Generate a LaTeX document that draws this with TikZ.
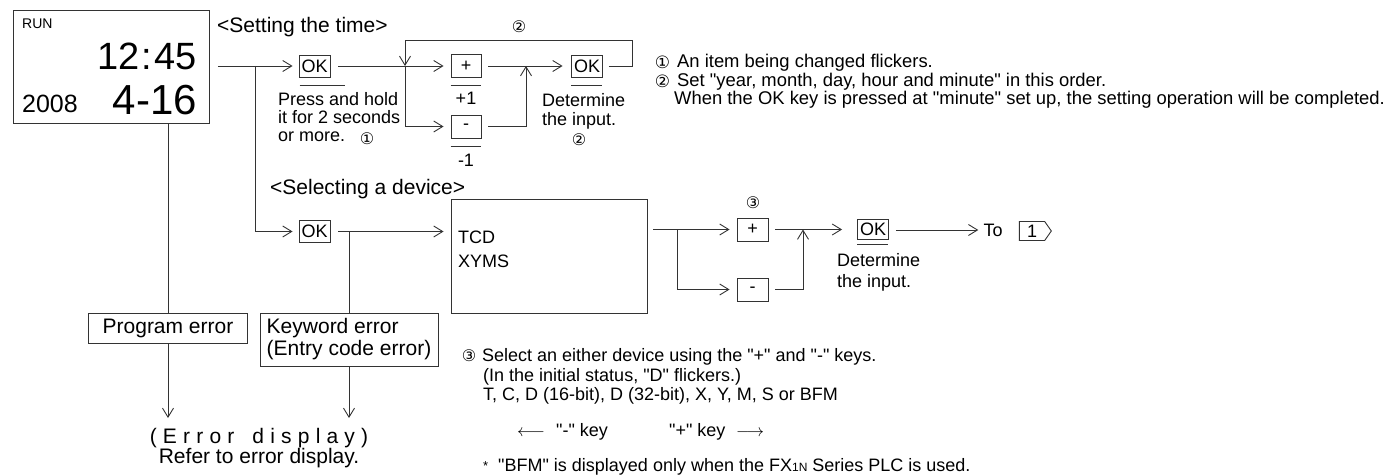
\documentclass[tikz,border=0pt]{standalone}
\usepackage{fontspec}
\setmainfont{Liberation Sans}[Ligatures=TeXOff]
\newfontfamily\dvsfont{DejaVu Sans}
\usetikzlibrary{arrows.meta,shapes.symbols}
\newcommand{\myfs}[2]{\fontsize{#1}{#2}\selectfont}
\newcommand{\lsp}{\hspace{6.2pt}}
\begin{document}
\begin{tikzpicture}[x=1pt,y=-1pt,
  ln/.style={draw=black!80,line width=0.9pt},
  arr/.style={ln,-{Straight Barb[length=9pt,width=11pt,line width=0.9pt]}},
  keybox/.style={draw=black!80,line width=0.9pt,inner sep=0pt,minimum width=31pt,minimum height=22pt,font=\myfs{18}{18}},
  box/.style={draw=black!80,line width=0.9pt,inner sep=0pt},
  txt/.style={inner sep=0pt,anchor=base west,font=\myfs{18}{18}},
  note/.style={inner sep=0pt,anchor=base west,font=\myfs{18}{18}},
  big/.style={inner sep=0pt,anchor=base west,font=\myfs{21}{21}},
  circ/.style={inner sep=0pt,font=\dvsfont\myfs{16}{16}}
]
\useasboundingbox (0,0) rectangle (1389,476);

% ---------- display ----------
\node[box,minimum width=196pt,minimum height=113pt,anchor=north west] (disp) at (13,10) {};
\node[inner sep=0pt,anchor=base west,font=\myfs{14}{14}] (run) at (22,29) {RUN};
\node[inner sep=0pt,anchor=base east,font=\myfs{38}{38}] (time) at (197,70) {12\kern2pt:\kern2pt45};
\node[inner sep=0pt,anchor=base east,font=\myfs{42}{42}] (date) at (197,115) {4-16};
\node[inner sep=0pt,anchor=base west,font=\myfs{25}{25}] (year) at (22,113) {2008};

% ---------- setting the time ----------
\node[big] (hdr1) at (217,33) {<Setting the time>};
\node[keybox] (ok1) at (314.5,66) {OK};
\node[keybox,minimum width=30pt,minimum height=23pt] (p1) at (466,66) {+};
\node[keybox,minimum width=30pt,minimum height=23pt] (m1) at (466,126.5) {-};
\node[keybox] (ok2) at (587,66) {OK};
\coordinate (jv) at (255,66);
\coordinate (j1) at (405,66);
\coordinate (j1b) at (405,126.5);
\coordinate (j1t) at (405,40);
\coordinate (j2) at (526,66);
\coordinate (j2b) at (526,126.5);
\coordinate (fb1) at (632,66);
\coordinate (fb2) at (632,40);

\draw[arr,shorten <=8pt,shorten >=6pt] (disp.east |- ok1) -- (ok1.west);
\draw[arr,shorten <=8pt,shorten >=7pt] (ok1.east) -- (p1.west);
\draw[arr,shorten >=7pt] (j1) -- (j1b) -- (m1.west);
\draw[arr,shorten <=7pt,shorten >=8.5pt] (p1.east) -- (ok2.west);
\draw[arr,shorten <=7pt] (m1.east) -- (j2b) -- (j2);
\draw[arr,shorten <=6pt] (ok2.east) -- (fb1) -- (fb2) -- (j1t) -- (j1);

\draw[ln] (ok1.south west) ++(1,8) -- ++(45,0);
\draw[ln] (p1.south west) ++(0,8) -- ++(30,0);
\draw[ln] (m1.south west) ++(0,8.5) -- ++(30,0);
\draw[ln] (ok2.south west) ++(0,8) -- ++(31,0);

\node[txt] (ph1) at (278,106) {Press and hold};
\node[txt] (ph2) at (278,124) {it for 2 seconds};
\node[txt] (ph3) at (278,142) {or more.};
\node[circ] (c1) at (367,138.5) {①};
\node[txt,anchor=base] (pl1) at (466,105) {+1};
\node[txt,anchor=base] (mi1) at (466,166) {-1};
\node[txt] (dt1) at (542,107) {Determine};
\node[txt] (dt2) at (542,125) {the input.};
\node[circ] (c2b) at (579,140) {②};
\node[circ] (c2a) at (519,27) {②};

% notes right
\node[circ,font=\dvsfont\myfs{17}{17}] (n1c) at (662.5,62.5) {①};
\node[txt,font=\myfs{18.4}{18.4}] (n1) at (677,68) {An item being changed flickers.};
\node[circ,font=\dvsfont\myfs{17}{17}] (n2c) at (662.5,81) {②};
\node[txt,font=\myfs{18.4}{18.4}] (n2) at (677,86.5) {Set "year, month, day, hour and minute" in this order.};
\node[txt,font=\myfs{18.4}{18.4}] (n3) at (674,105) {When the OK key is pressed at "minute" set up, the setting operation will be completed.};

% ---------- selecting a device ----------
\node[big] (hdr2) at (270,194) {<Selecting a device>};
\node[keybox] (ok3) at (314.5,231.5) {OK};
\node[box,minimum width=196pt,minimum height=114pt] (tcd) at (549,256) {};
\node[txt] (tcd1) at (458,243) {TCD};
\node[txt] (tcd2) at (458,267) {XYMS};
\draw[arr,shorten >=6pt] (jv) -- (jv |- ok3) -- (ok3.west);
\draw[arr,shorten <=8pt,shorten >=7pt] (ok3.east) -- (ok3 -| tcd.west);

% errors
\node[box,minimum width=159pt,minimum height=30pt,font=\myfs{21}{21}] (prog) at (168,328) {Program error};
\node[box,minimum width=178pt,minimum height=53pt,align=left,font=\myfs{21}{22}] (kw) at (349,339.5) {Keyword error\\(Entry code error)};
\draw[ln] (disp.south -| prog.north) -- (prog.north);
\draw[ln] (ok3 -| kw.north) -- (kw.north);
\coordinate (e1) at (168,418);
\coordinate (e2) at (349,418);
\draw[arr] (prog.south) -- (e1);
\draw[arr] (kw.south) -- (e2);
\node[big,anchor=base] (err1) at (259,443) {(\lsp E\lsp r\lsp r\lsp o\lsp r\hspace{18pt}d\lsp i\lsp s\lsp p\lsp l\lsp a\lsp y\lsp )};
\node[big,anchor=base] (err2) at (259,463) {Refer to error display.};

% lower right chain
\node[keybox,minimum height=23pt] (p2) at (752.5,229.5) {+};
\node[keybox,minimum height=23pt] (m2) at (752.5,289.5) {-};
\node[keybox,minimum height=20pt] (ok4) at (873,229) {OK};
\coordinate (j4) at (677,229.5);
\coordinate (j5) at (803,229.5);
\draw[arr,shorten <=6pt,shorten >=7pt] (tcd.east |- p2) -- (p2.west);
\draw[arr,shorten >=7pt] (j4) -- (j4 |- m2) -- (m2.west);
\draw[arr,shorten <=7pt,shorten >=15pt] (p2.east) -- (ok4.west |- p2);
\draw[arr,shorten <=7pt] (m2.east) -- (j5 |- m2) -- (j5);
\draw[ln] (ok4.south west) ++(0,5) -- ++(31,0);
\node[circ] (c3) at (753,203) {③};
\node[txt] (dt3) at (837,266) {Determine};
\node[txt] (dt4) at (837,287) {the input.};
\node[inner sep=0pt,font=\myfs{18}{18}] (to) at (993,230) {To};
\draw[arr,shorten <=7pt,shorten >=5pt] (ok4.east |- to) -- (to.west);
\node[draw=black!80,line width=0.9pt,signal,signal to=east,signal pointer angle=110,inner sep=0pt,minimum width=32pt,minimum height=19pt,font=\myfs{18}{18}] (one) at (1032,231) {1};

% notes bottom
\node[circ] (n3c) at (469,355.5) {③};
\node[note] (s1) at (482,361) {Select an either device using the "+" and "-" keys.};
\node[note] (s2) at (483,381) {(In the initial status, "D" flickers.)};
\node[note] (s3) at (483,400) {T, C, D (16-bit), D (32-bit), X, Y, M, S or BFM};
\node[txt] (la) at (517,436) {$\longleftarrow$};
\node[note] (lk) at (556,436) {"-" key};
\node[note] (rk) at (669,436) {"+" key};
\node[txt] (ra) at (736,436) {$\longrightarrow$};
\node[inner sep=0pt,anchor=base west,font=\myfs{13}{13}] (ast) at (483,470) {*};
\node[txt] (fn) at (498,471.5) {"BFM" is displayed only when the FX{\myfs{12}{12}1N} Series PLC is used.};
\end{tikzpicture}
\end{document}
